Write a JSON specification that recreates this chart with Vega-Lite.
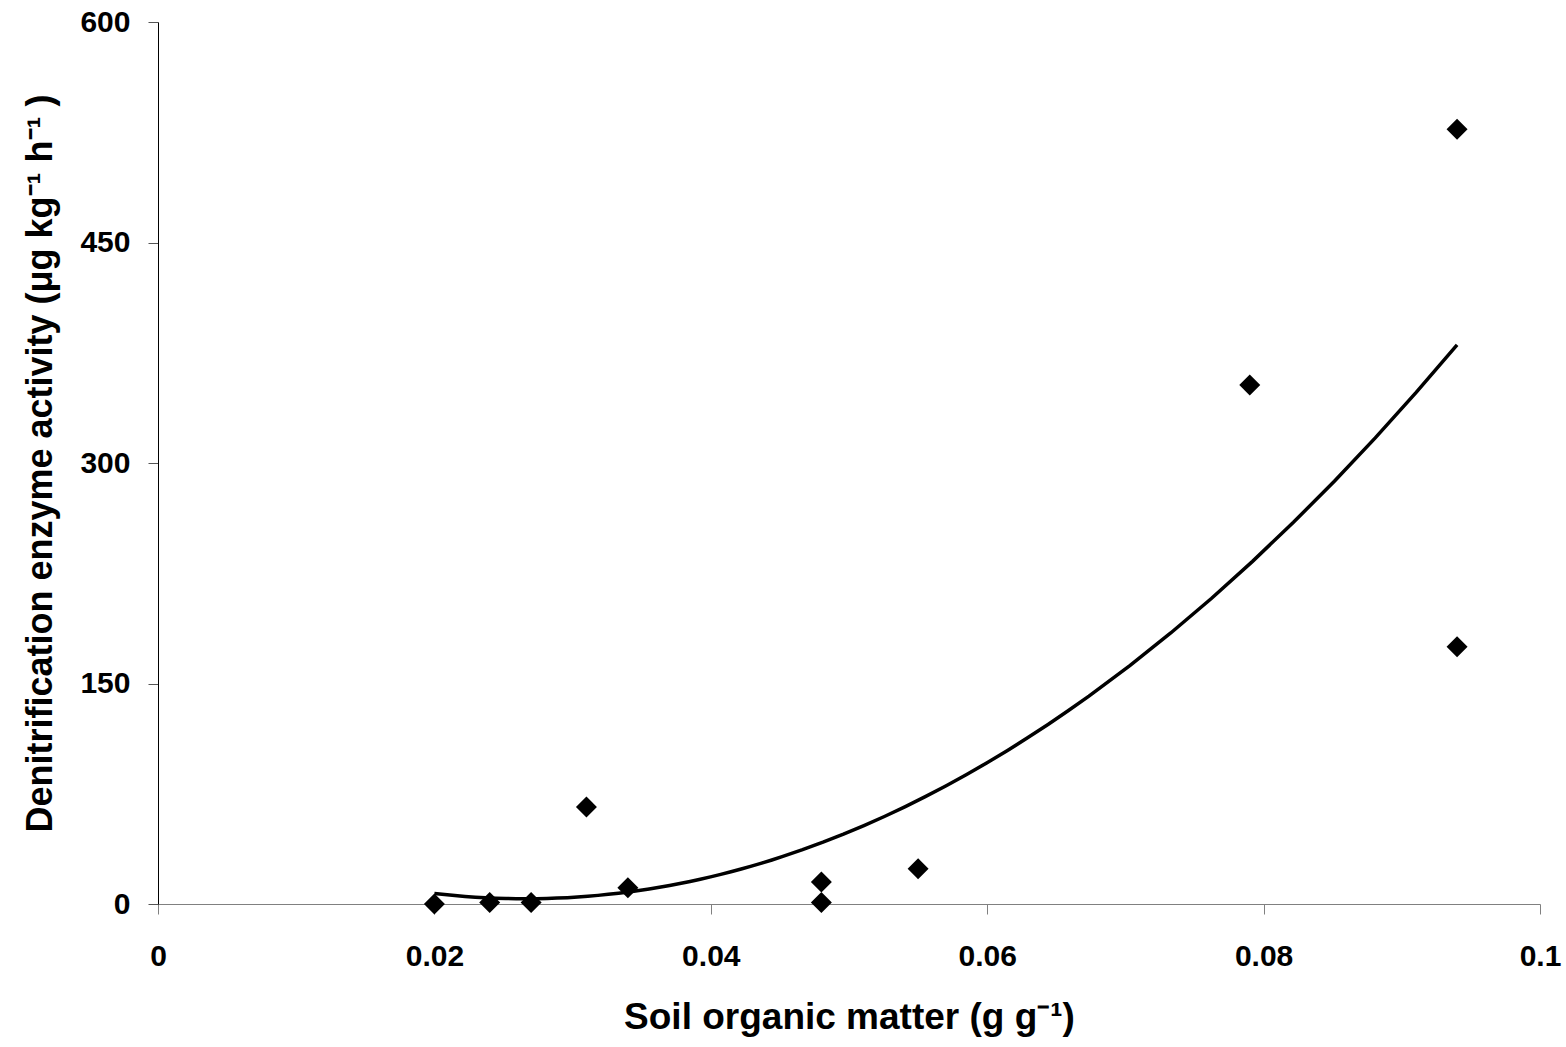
{
  "$schema": "https://vega.github.io/schema/vega-lite/v6.json",
  "width": 1382,
  "height": 882,
  "autosize": {"type": "none"},
  "padding": {"left": 158, "top": 22, "right": 26, "bottom": 143},
  "background": "white",
  "config": {"view": {"stroke": null}, "font": "Liberation Sans"},
  "data": {
    "values": [
      {"som": 0.020, "dea": 0},
      {"som": 0.024, "dea": 1},
      {"som": 0.027, "dea": 1},
      {"som": 0.031, "dea": 66},
      {"som": 0.034, "dea": 11},
      {"som": 0.048, "dea": 15},
      {"som": 0.048, "dea": 1},
      {"som": 0.055, "dea": 24},
      {"som": 0.079, "dea": 353},
      {"som": 0.094, "dea": 527},
      {"som": 0.094, "dea": 175}
    ]
  },
  "encoding": {
    "x": {
      "field": "som", "type": "quantitative",
      "scale": {"domain": [0, 0.1], "nice": false, "zero": false},
      "axis": {
        "title": "Soil organic matter (g g⁻¹)",
        "values": [0, 0.02, 0.04, 0.06, 0.08, 0.1],
        "format": "~g",
        "grid": false,
        "labelFlush": false,
        "domainColor": "#808080", "tickColor": "#808080", "tickSize": 10,
        "labelFont": "Liberation Sans", "labelFontSize": 30, "labelFontWeight": "bold", "labelColor": "black",
        "labelPadding": 27,
        "titleFont": "Liberation Sans", "titleFontSize": 37, "titleFontWeight": "bold", "titleColor": "black",
        "titlePadding": 28
      }
    },
    "y": {
      "field": "dea", "type": "quantitative",
      "scale": {"domain": [0, 600], "nice": false},
      "axis": {
        "title": "Denitrification enzyme activity (μg kg⁻¹ h⁻¹ )",
        "values": [0, 150, 300, 450, 600],
        "grid": false,
        "labelFlush": false,
        "domainColor": "black", "tickColor": "#555555", "tickSize": 10,
        "labelFont": "Liberation Sans", "labelFontSize": 30, "labelFontWeight": "bold", "labelColor": "black",
        "labelPadding": 18,
        "titleFont": "Liberation Sans", "titleFontSize": 36, "titleFontWeight": "bold", "titleColor": "black",
        "titlePadding": 20
      }
    }
  },
  "layer": [
    {
      "transform": [
        {"regression": "dea", "on": "som", "method": "poly", "order": 2, "extent": [0.02, 0.094]}
      ],
      "mark": {"type": "line", "color": "black", "strokeWidth": 3.5, "clip": true}
    },
    {
      "mark": {"type": "point", "shape": "diamond", "filled": true, "color": "black", "size": 440, "opacity": 1}
    }
  ]
}
